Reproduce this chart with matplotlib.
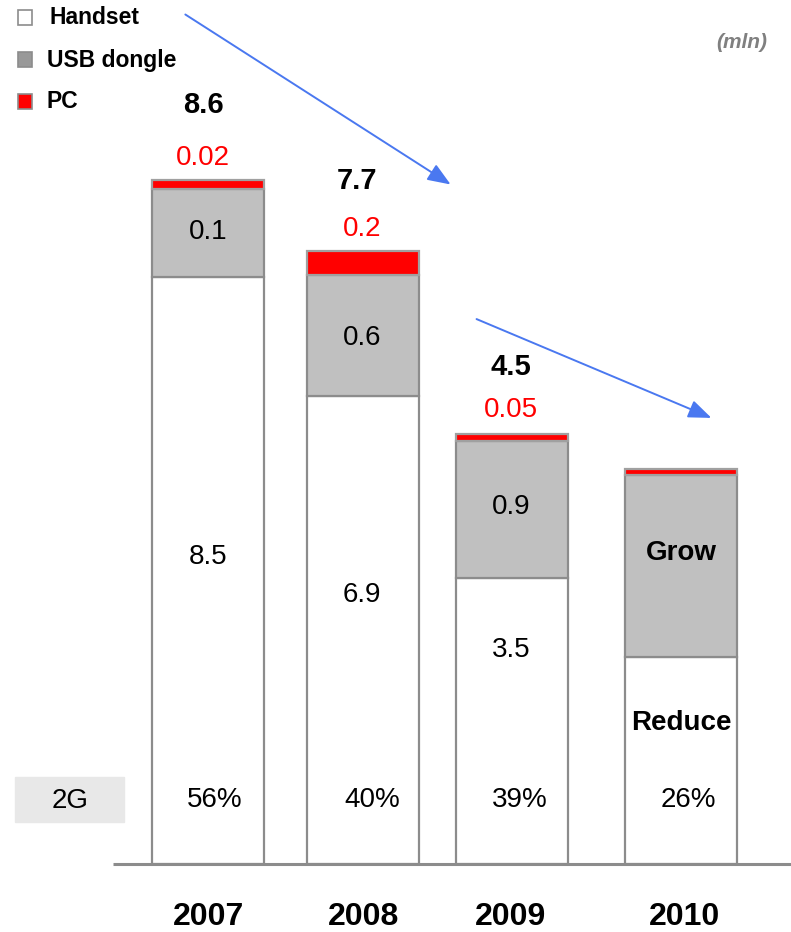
import matplotlib
matplotlib.use("Agg")
import matplotlib.pyplot as plt
import numpy as np

# categories and labels
years = ["2007", "2008", "2009", "2010"]
totals = ["8.6", "7.7", "4.5", ""]
pc_labels = ["0.02", "0.2", "0.05", ""]
usb_labels = ["0.1", "0.6", "0.9", "Grow"]
handset_labels = ["8.5", "6.9", "3.5", "Reduce"]
share_2g = ["56%", "40%", "39%", "26%"]

# drawn segment heights (mln, as laid out in the picture)
handset_h = [7.38, 5.89, 3.60, 2.60]
usb_h = [1.11, 1.52, 1.72, 2.29]
pc_h = [0.11, 0.30, 0.09, 0.08]

W, H = 791, 932
fig = plt.figure(figsize=(W / 100, H / 100), dpi=100)
ax = fig.add_axes([0, 0, 1, 1])
scale = 79.5  # px per mln
base_px = 864
ax.set_xlim(0, W)
ax.set_ylim(-(H - base_px) / scale, base_px / scale)
ax.axis("off")

sans = ["Liberation Sans", "DejaVu Sans"]

x_pos = np.array([208, 363, 512, 681])
width = 112
edge = "#8c8c8c"
handset_h = np.array(handset_h)
usb_h = np.array(usb_h)
pc_h = np.array(pc_h)

ax.bar(x_pos, handset_h, width, color="white", edgecolor=edge, linewidth=1.6)
ax.bar(x_pos, usb_h, width, bottom=handset_h, color="#c0c0c0", edgecolor=edge, linewidth=1.6)
ax.bar(x_pos, pc_h, width, bottom=handset_h + usb_h, color="#ff0000", edgecolor="#a0a0a0", linewidth=1.6)

# baseline
ax.plot([113, W], [0, 0], color="#8c8c8c", lw=2.2, solid_capstyle="butt")


def px(x, y):
    return x / W, 1 - y / H


total_xy = [(203, 105), (357, 181), (511, 367)]
pc_xy = [(203, 158), (362, 229), (511, 410)]
usb_xy = [(208, 232), (362, 338), (511, 507)]
hs_xy = [(208, 557), (362, 595), (511, 650)]
share_x = [215, 372, 520, 688]
year_x = [209, 364, 511, 685]

for i in range(3):
    fig.text(*px(*total_xy[i]), totals[i], fontsize=21, weight="bold", family=sans, ha="center", va="center")
    fig.text(*px(*pc_xy[i]), pc_labels[i], color="red", fontsize=20, family=sans, ha="center", va="center")
    fig.text(*px(*usb_xy[i]), usb_labels[i], fontsize=20, family=sans, ha="center", va="center")
    fig.text(*px(*hs_xy[i]), handset_labels[i], fontsize=20, family=sans, ha="center", va="center")

for i in range(4):
    fig.text(*px(share_x[i], 800), share_2g[i], fontsize=20, family=sans, ha="center", va="center")
    fig.text(*px(year_x[i], 917), years[i], fontsize=23, weight="bold", family=sans,
             ha="center", va="center")

fig.text(*px(681, 553), usb_labels[3], fontsize=20, weight="bold", family=sans, ha="center", va="center")
fig.text(*px(681, 723), handset_labels[3], fontsize=20, weight="bold", family=sans, ha="center", va="center")

# 2G tag
fig.patches.append(plt.Rectangle(px(15, 822), 109 / W, 45 / H, transform=fig.transFigure,
                                 color="#e8e8e8", zorder=0))
fig.text(*px(70, 801), "2G", fontsize=20, family=sans, ha="center", va="center")

# legend
leg_items = [("Handset", "white", 18, 50), ("USB dongle", "#999999", 60, 47), ("PC", "#ff0000", 102, 47)]
for name, col, yy, tx in leg_items:
    fig.patches.append(plt.Rectangle(px(18, yy + 7), 14 / W, 15 / H, transform=fig.transFigure,
                                     facecolor=col, edgecolor="#8c8c8c", linewidth=1.2))
    fig.text(*px(tx, yy), name, fontsize=16.5, family=sans,
             weight="bold", ha="left", va="center")

fig.text(*px(767, 42), "(mln)", fontsize=15, style="italic", weight="bold", color="#808080",
         family=sans, ha="right", va="center")

# trend arrows
arrow = dict(arrowstyle="-|>,head_length=1.4,head_width=0.55", color="#4a78f0", lw=1.4)
ax.annotate("", xy=(453, (base_px - 186) / scale), xytext=(183, (base_px - 13) / scale), arrowprops=arrow)
ax.annotate("", xy=(714, (base_px - 419) / scale), xytext=(474, (base_px - 318) / scale), arrowprops=arrow)

fig.savefig("out.png", dpi=100)
